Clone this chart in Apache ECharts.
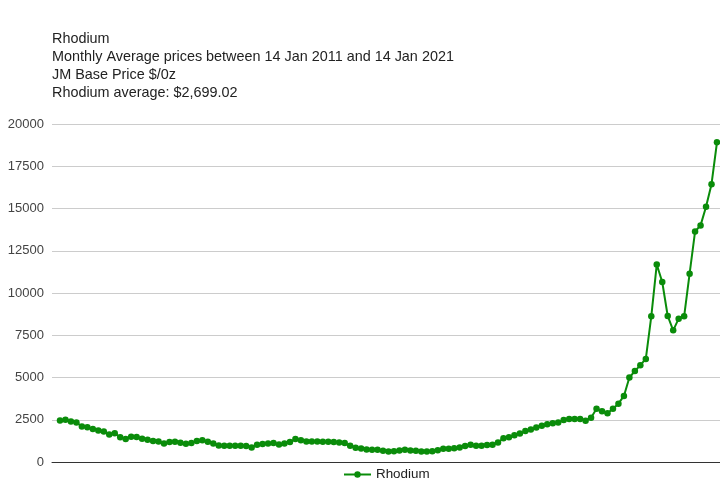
<!DOCTYPE html>
<html>
<head>
<meta charset="utf-8">
<script src="https://cdn.jsdelivr.net/npm/echarts@6/dist/echarts.min.js"></script>
<style>html,body{margin:0;padding:0;background:#fff}#c{width:720px;height:483px}</style>
</head>
<body>
<div id="c"></div>
<script>
const titleLines = [
  'Rhodium',
  'Monthly Average prices between 14 Jan 2011 and 14 Jan 2021',
  'JM Base Price $/0z',
  'Rhodium average: $2,699.02'
];
const seriesName = 'Rhodium';
const yTicks = [0, 2500, 5000, 7500, 10000, 12500, 15000, 17500, 20000];
const prices = [
  2460,2500,2400,2340,2100,2060,1960,1860,1800,1620,1700,1460,1360,1500,1480,1380,1320,1240,1220,1100,
  1180,1200,1140,1080,1120,1240,1280,1200,1100,980,960,960,960,960,940,860,1020,1060,1100,1120,
  1040,1100,1180,1360,1290,1220,1220,1220,1200,1200,1180,1160,1120,960,840,800,740,720,720,660,
  620,640,680,720,680,660,620,620,640,700,780,780,820,860,940,1020,960,960,1000,1020,
  1150,1410,1470,1590,1690,1830,1920,2040,2140,2240,2300,2340,2480,2540,2540,2540,2440,2620,3150,3000,
  2880,3150,3450,3910,5000,5380,5730,6100,8620,11690,10650,8640,7790,8480,8620,11140,13640,14000,15100,16440,
  18920
];
const monthNames = ['Jan','Feb','Mar','Apr','May','Jun','Jul','Aug','Sep','Oct','Nov','Dec'];
const months = prices.map((_, i) => monthNames[i % 12] + ' ' + (2011 + Math.floor(i / 12)));

const chart = echarts.init(document.getElementById('c'), null, {renderer: 'canvas'});
chart.setOption({
  animation: false,
  backgroundColor: '#fff',
  title: {
    text: titleLines.join('\n'),
    left: 52,
    top: 30,
    padding: 0,
    textStyle: {fontFamily: 'Liberation Sans, Arial', fontSize: 14.4, fontWeight: 'normal', color: '#222', lineHeight: 18}
  },
  legend: {
    data: [seriesName],
    left: 343,
    top: 468,
    padding: 0,
    itemWidth: 27,
    itemHeight: 8,
    itemGap: 5,
    textStyle: {fontFamily: 'Liberation Sans, Arial', fontSize: 13.4, color: '#222'}
  },
  tooltip: {trigger: 'axis', formatter: p => months[p[0].value[0]] + ': ' + p[0].value[1]},
  grid: {left: 52, right: 0, top: 124, bottom: 21, containLabel: false},
  xAxis: {
    type: 'value',
    min: -1.46,
    max: 120.55,
    axisLabel: {show: false},
    axisTick: {show: false},
    splitLine: {show: false},
    axisLine: {show: true, onZero: true, lineStyle: {color: '#333', width: 1}}
  },
  yAxis: {
    type: 'value',
    min: yTicks[0],
    max: yTicks[yTicks.length - 1],
    interval: yTicks[1] - yTicks[0],
    axisLine: {show: false},
    axisTick: {show: false},
    axisLabel: {margin: 8, fontFamily: 'Liberation Sans, Arial', fontSize: 13, color: '#444', formatter: v => String(v)},
    splitLine: {lineStyle: {color: '#ccc', width: 1}}
  },
  series: [{
    name: seriesName,
    type: 'line',
    data: prices.map((v, i) => [i, v]),
    symbol: 'circle',
    symbolSize: 6.5,
    showSymbol: true,
    color: '#0a8c0a',
    lineStyle: {width: 2, color: '#0a8c0a'},
    itemStyle: {color: '#0a8c0a'}
  }]
});
</script>
</body>
</html>
